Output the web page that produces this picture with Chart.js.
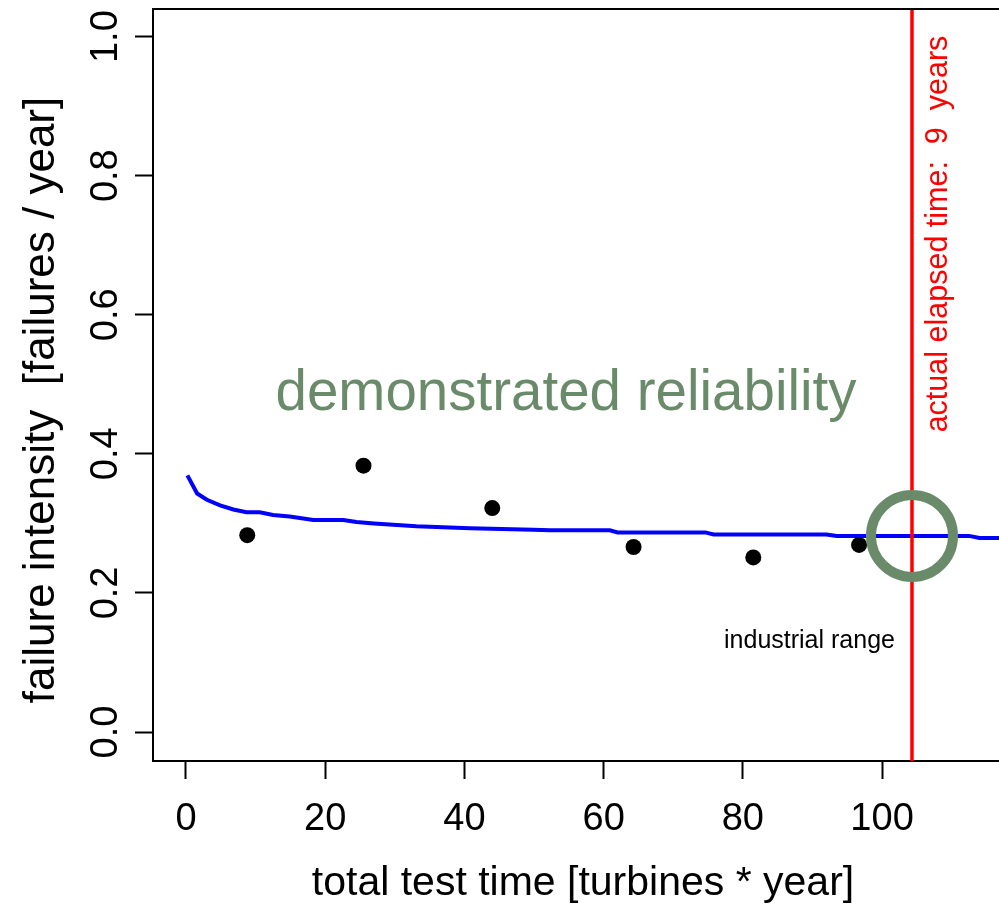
<!DOCTYPE html>
<html>
<head>
<meta charset="utf-8">
<script src="https://cdn.jsdelivr.net/npm/chart.js@4/dist/chart.umd.min.js"></script>
<style>
  html, body { margin: 0; padding: 0; background: #fff; overflow: hidden; }
  #wrap { position: relative; width: 999px; height: 906px; }
</style>
</head>
<body>
<div id="wrap"><canvas id="chart"></canvas></div>
<script>
'use strict';

// estimate of failure intensity (blue line)
const lineX = [0.2, 1.6, 3.0, 4.9, 6.8, 8.7, 10.6, 12.5, 14.9, 18.3, 22.6, 24.5, 27.0, 33.1, 40.8, 49.9, 52.3, 60.9, 62.0, 74.6, 75.8, 92.0, 93.5, 112.5, 114.0, 117];
const lineY = [0.369, 0.343, 0.334, 0.326, 0.320, 0.316, 0.316, 0.312, 0.310, 0.305, 0.305, 0.302, 0.300, 0.296, 0.293, 0.291, 0.290, 0.290, 0.287, 0.287, 0.284, 0.284, 0.282, 0.282, 0.279, 0.279];

// yearly observations (black dots)
const obsX = [8.8, 25.5, 44.0, 64.3, 81.5, 96.7];
const obsY = [0.283, 0.383, 0.322, 0.266, 0.251, 0.269];

// actual elapsed time marker
const elapsedX = 104.3;
const elapsedY = 0.282;

const xTicks = [0, 20, 40, 60, 80, 100];
const yTicks = [0.0, 0.2, 0.4, 0.6, 0.8, 1.0];
const yTickLabels = ['0.0', '0.2', '0.4', '0.6', '0.8', '1.0'];

const xTitle = 'total test time [turbines * year]';
const yTitle = 'failure intensity  [failures / year]';
const bigNote = 'demonstrated reliability';
const smallNote = 'industrial range';
const redNote = 'actual elapsed time:  9  years';

const FONT = '"Liberation Sans", Arial, Helvetica, sans-serif';
const GREEN = 'rgb(106,139,106)';

const textPlugin = {
  id: 'rtext',
  afterDraw(chart) {
    const ctx = chart.ctx;
    const area = chart.chartArea;
    const xs = chart.scales.x, ys = chart.scales.y;
    ctx.save();
    // top edge of the box
    ctx.strokeStyle = '#000';
    ctx.lineWidth = 2;
    ctx.beginPath();
    ctx.moveTo(area.left, area.top);
    ctx.lineTo(area.right, area.top);
    ctx.stroke();

    ctx.fillStyle = '#000';
    ctx.font = '38px ' + FONT;
    ctx.textAlign = 'center';
    ctx.textBaseline = 'alphabetic';
    xTicks.forEach(v => ctx.fillText(String(v), xs.getPixelForValue(v), 830));

    yTicks.forEach((v, i) => {
      ctx.save();
      ctx.translate(117, ys.getPixelForValue(v));
      ctx.rotate(-Math.PI / 2);
      ctx.fillText(yTickLabels[i], 0, 0);
      ctx.restore();
    });

    ctx.font = '41px ' + FONT;
    ctx.fillText(xTitle, 583, 895);
    ctx.font = '44px ' + FONT;
    ctx.save();
    ctx.translate(54, 400);
    ctx.rotate(-Math.PI / 2);
    ctx.fillText(yTitle, 0, 0);
    ctx.restore();

    ctx.fillStyle = GREEN;
    ctx.font = '56.5px ' + FONT;
    ctx.fillText(bigNote, 566, 410);

    ctx.fillStyle = '#000';
    ctx.font = '25px ' + FONT;
    ctx.fillText(smallNote, 809.5, 648);

    ctx.fillStyle = '#ff0000';
    ctx.font = '30.5px ' + FONT;
    ctx.save();
    ctx.translate(947, 234);
    ctx.rotate(-Math.PI / 2);
    ctx.fillText(redNote, 0, 0);
    ctx.restore();
    ctx.restore();
  }
};

const data = {
  datasets: [
    {
      label: 'elapsed circle',
      data: [{x: elapsedX, y: elapsedY}],
      pointRadius: 41,
      pointHoverRadius: 41,
      pointBorderWidth: 10,
      borderColor: GREEN,
      backgroundColor: 'rgba(0,0,0,0)',
      order: 0
    },
    {
      label: 'elapsed time',
      data: [{x: elapsedX, y: -0.05}, {x: elapsedX, y: 1.05}],
      showLine: true,
      borderColor: '#ff0000',
      borderWidth: 3.5,
      pointRadius: 0,
      order: 1
    },
    {
      label: 'observed',
      data: obsX.map((x, i) => ({x: x, y: obsY[i]})),
      pointRadius: 8,
      backgroundColor: '#000',
      borderColor: '#000',
      borderWidth: 0,
      order: 2
    },
    {
      label: 'estimate',
      data: lineX.map((x, i) => ({x: x, y: lineY[i]})),
      showLine: true,
      borderColor: '#0000ff',
      borderWidth: 4,
      pointRadius: 0,
      tension: 0,
      order: 3
    }
  ]
};

const config = {
  type: 'scatter',
  data: data,
  plugins: [textPlugin],
  options: {
    responsive: false,
    animation: false,
    devicePixelRatio: 1,
    layout: { autoPadding: false, padding: { top: 9, left: 0, right: 0, bottom: 0 } },
    plugins: { legend: { display: false }, tooltip: { enabled: false } },
    scales: {
      x: {
        type: 'linear',
        min: -4.74,
        max: 116.8,
        afterBuildTicks: s => { s.ticks = xTicks.map(v => ({value: v})); },
        afterFit: s => { s.height = 145; },
        ticks: { display: false },
        grid: { drawOnChartArea: false, drawTicks: true, tickLength: 18, tickWidth: 2, tickColor: '#000' },
        border: { display: true, color: '#000', width: 2 }
      },
      y: {
        type: 'linear',
        min: -0.0417,
        max: 1.0397,
        afterBuildTicks: s => { s.ticks = yTicks.map(v => ({value: v})); },
        afterFit: s => { s.width = 153; },
        ticks: { display: false },
        grid: { drawOnChartArea: false, drawTicks: true, tickLength: 18, tickWidth: 2, tickColor: '#000' },
        border: { display: true, color: '#000', width: 2 }
      }
    }
  }
};

const canvasElem = document.getElementById('chart');
canvasElem.width = 999;
canvasElem.height = 906;
const myChart = new Chart(canvasElem, config);
</script>
</body>
</html>
